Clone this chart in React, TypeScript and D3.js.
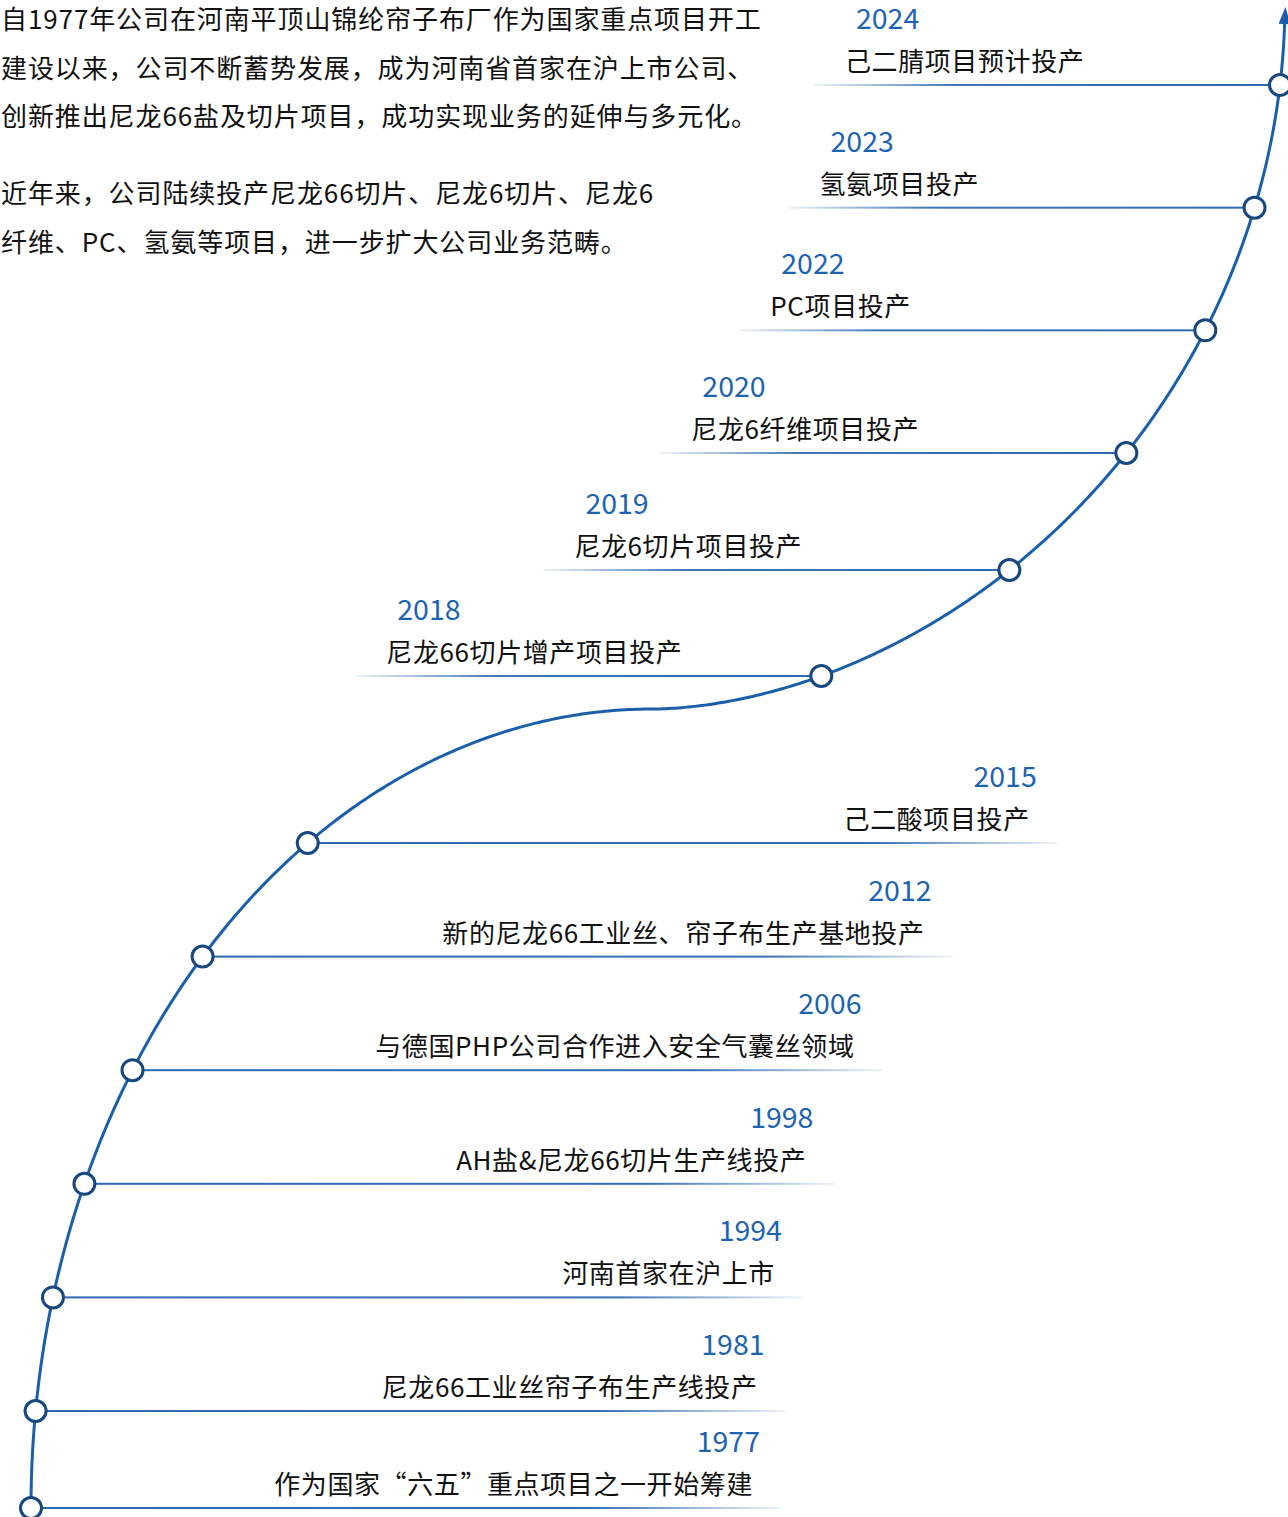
import React from 'react';
import * as d3 from 'd3';

const years = ['1977', '1981', '1994', '1998', '2006', '2012', '2015', '2018', '2019', '2020', '2022', '2023', '2024'];
const events = [
  '作为国家“六五”重点项目之一开始筹建',
  '尼龙66工业丝帘子布生产线投产',
  '河南首家在沪上市',
  'AH盐&尼龙66切片生产线投产',
  '与德国PHP公司合作进入安全气囊丝领域',
  '新的尼龙66工业丝、帘子布生产基地投产',
  '己二酸项目投产',
  '尼龙66切片增产项目投产',
  '尼龙6切片项目投产',
  '尼龙6纤维项目投产',
  'PC项目投产',
  '氢氨项目投产',
  '己二腈项目预计投产',
];
const introFirst = [
  '自1977年公司在河南平顶山锦纶帘子布厂作为国家重点项目开工',
  '建设以来，公司不断蓄势发展，成为河南省首家在沪上市公司、',
  '创新推出尼龙66盐及切片项目，成功实现业务的延伸与多元化。',
];
const introSecond = [
  '近年来，公司陆续投产尼龙66切片、尼龙6切片、尼龙6',
  '纤维、PC、氢氨等项目，进一步扩大公司业务范畴。',
];

const W = 1288;
const H = 1517;
const FONT = '"Noto Sans CJK SC", "Noto Sans", sans-serif';
const BLUE = '#1b5fab';
const LINE_BLUE = '#2c68b0';
const DARK = '#17477f';
const YEAR_BLUE = '#1c63b2';

// track anchors: bottom start, flat middle, top end
const bottom = { x: 31, y: 1508 };
const mid = { x: 652, y: 709 };
const top = { x: 1285, y: 0 };
const upperPow = 1.1;

function trackX(y: number) {
  if (y >= mid.y) {
    const s = Math.max(0, Math.min(1, (bottom.y - y) / (bottom.y - mid.y)));
    return bottom.x + (mid.x - bottom.x) * (1 - Math.sqrt(1 - s * s));
  }
  const c = y / mid.y;
  return mid.x + (top.x - mid.x) * Math.pow(Math.sqrt(1 - c * c), upperPow);
}

const App: React.FC = () => {
  // vertical position of each milestone (lower run, then upper run)
  const y = d3.scaleLinear()
    .domain([0, 1, 6, 7, 8, 9, 12])
    .range([1508, 1411, 843, 676, 570, 453, 85]);

  const nodes = years.map((yr, i) => {
    const cy = y(i);
    return { yr, text: events[i], i, cx: trackX(cy), cy, lower: i <= 6 };
  });

  // sample the S-shaped track
  const arrowBase = 24;
  const ts = d3.range(0, 1.0001, 0.004);
  const pts: [number, number][] = [[bottom.x, H]];
  ts.forEach(k => {
    const t = k * Math.PI / 2;
    pts.push([
      bottom.x + (mid.x - bottom.x) * (1 - Math.cos(t)),
      bottom.y - (bottom.y - mid.y) * Math.sin(t),
    ]);
  });
  const tEnd = Math.acos(arrowBase / mid.y);
  ts.forEach(k => {
    const t = k * tEnd;
    if (t === 0) return;
    pts.push([
      mid.x + (top.x - mid.x) * Math.pow(Math.sin(t), upperPow),
      mid.y * Math.cos(t),
    ]);
  });
  const line = d3.line();
  const trackPath = line(pts) || '';

  const [ex, ey] = pts[pts.length - 1];
  const [px, py] = pts[pts.length - 6];
  const ang = Math.atan2(ey - py, ex - px);
  const arrowLen = 17;
  const arrowHalf = 6;
  const tip: [number, number] = [ex + Math.cos(ang) * arrowLen, ey + Math.sin(ang) * arrowLen];
  const l: [number, number] = [ex + Math.cos(ang + Math.PI / 2) * arrowHalf, ey + Math.sin(ang + Math.PI / 2) * arrowHalf];
  const r: [number, number] = [ex + Math.cos(ang - Math.PI / 2) * arrowHalf, ey + Math.sin(ang - Math.PI / 2) * arrowHalf];
  const arrowPath = d3.line()([tip, l, r, tip]) + 'Z';

  const lowerLen = 750;
  const upperLen = 466;

  return (
    <svg width={W} height={H} style={{ position: 'absolute', left: 0, top: 0, display: 'block' }}
      fontFamily={FONT}>
      <defs>
        <linearGradient id="fadeRight" x1="0" x2="1" y1="0" y2="0">
          <stop offset="0" stopColor={LINE_BLUE} stopOpacity={1} />
          <stop offset="0.75" stopColor={LINE_BLUE} stopOpacity={0.95} />
          <stop offset="1" stopColor={LINE_BLUE} stopOpacity={0.08} />
        </linearGradient>
        <linearGradient id="fadeLeft" x1="0" x2="1" y1="0" y2="0">
          <stop offset="0" stopColor={LINE_BLUE} stopOpacity={0.08} />
          <stop offset="0.3" stopColor={LINE_BLUE} stopOpacity={0.9} />
          <stop offset="1" stopColor={LINE_BLUE} stopOpacity={1} />
        </linearGradient>
      </defs>

      <g fontSize={26} fill="#111" letterSpacing={0.9}>
        {introFirst.map((s, i) => (
          <text key={'a' + i} x={1} y={29 + i * 48.5}>{s}</text>
        ))}
        {introSecond.map((s, i) => (
          <text key={'b' + i} x={1} y={203 + i * 48.5}>{s}</text>
        ))}
      </g>

      {nodes.map(d => {
        const x1 = d.lower ? d.cx : d.cx - upperLen;
        const x2 = d.lower ? d.cx + lowerLen : d.cx;
        return (
          <g key={d.yr}>
            <rect x={x1} y={d.cy - 1} width={x2 - x1} height={2}
              fill={d.lower ? 'url(#fadeRight)' : 'url(#fadeLeft)'} />
            <text x={d.lower ? x2 - 21 : x1 + 42} y={d.cy - 56}
              textAnchor={d.lower ? 'end' : 'start'} fontSize={28.5} fill={YEAR_BLUE}>{d.yr}</text>
            <text x={d.lower ? x2 - 28 : x1 + 31} y={d.cy - 14} letterSpacing={0.6}
              textAnchor={d.lower ? 'end' : 'start'} fontSize={26} fill="#111">{d.text}</text>
          </g>
        );
      })}

      <path d={trackPath} fill="none" stroke={BLUE} strokeWidth={3} />
      <path d={arrowPath} fill={BLUE} />

      {nodes.map(d => (
        <circle key={'c' + d.yr} cx={d.cx} cy={d.cy} r={10.5} fill="#fff" stroke={DARK} strokeWidth={3} />
      ))}
    </svg>
  );
};

export default App;
